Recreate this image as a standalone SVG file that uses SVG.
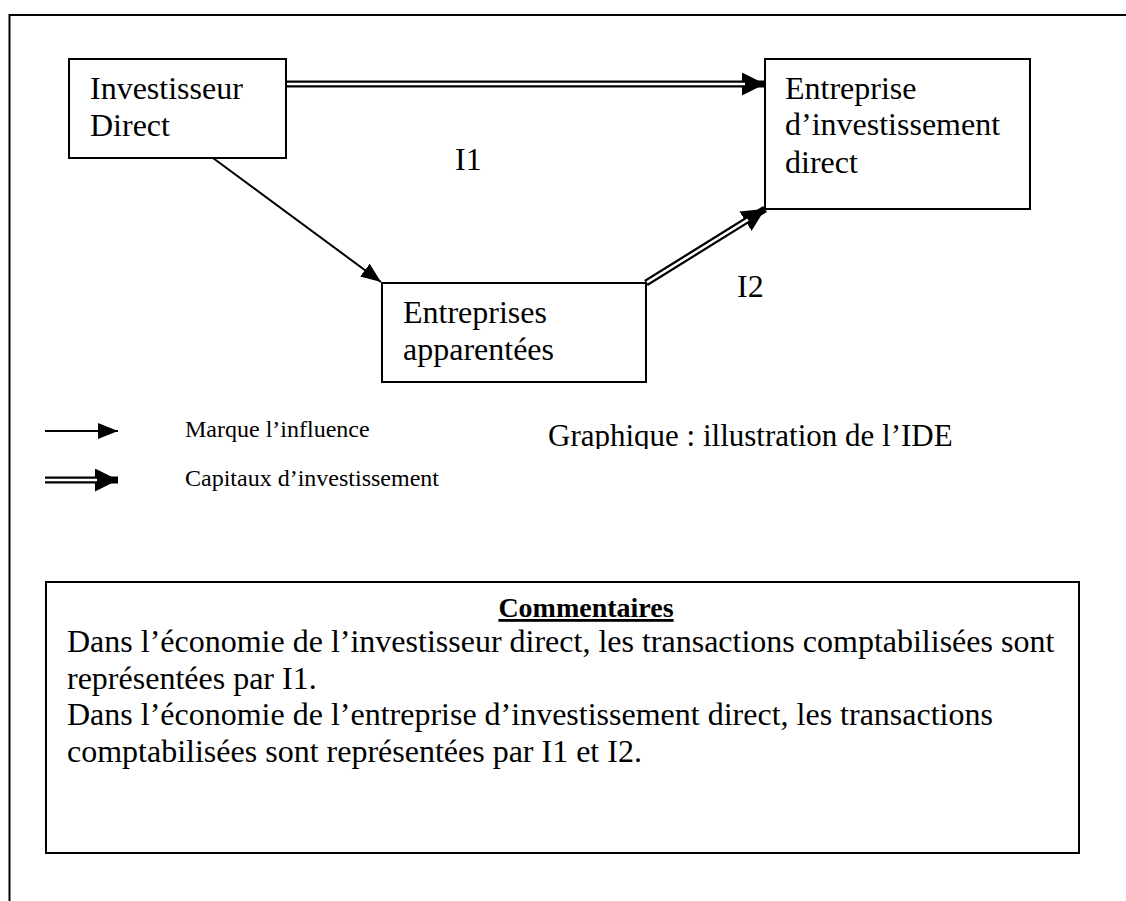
<svg xmlns="http://www.w3.org/2000/svg" width="1126" height="901" viewBox="0 0 1126 901">
<style>
.box{fill:#fff;stroke:#000;stroke-width:2}
.t{font-family:"Liberation Serif","Times New Roman",serif;fill:#000}
.big{font-size:32px}
.leg{font-size:24px}
.com{font-size:32px}
.thin{stroke:#000;stroke-width:2;fill:none}
.dblo{stroke:#000;stroke-width:7;fill:none}
.dbli{stroke:#fff;stroke-width:2.5;fill:none}
</style>
<defs>
<marker id="ah" markerUnits="userSpaceOnUse" markerWidth="20" markerHeight="16" refX="20" refY="8" orient="auto"><path d="M0,0 L20,8 L0,16 z" fill="#000"/></marker>
<marker id="ah2" markerUnits="userSpaceOnUse" markerWidth="23" markerHeight="23" refX="23" refY="11.5" orient="auto"><path d="M0,0 L23,11.5 L0,23 z" fill="#000"/></marker>
<clipPath id="clipG"><rect x="500" y="400" width="500" height="49"/></clipPath>
</defs>
<rect width="1126" height="901" fill="#fff"/>
<path d="M9.5,901 V15 H1126" fill="none" stroke="#000" stroke-width="2"/>

<g id="connectors">
<line class="thin" x1="213" y1="158" x2="381" y2="282" marker-end="url(#ah)"/>
<line class="dblo" x1="286" y1="84" x2="765" y2="84" marker-end="url(#ah2)"/>
<line class="dbli" x1="287" y1="84" x2="745" y2="84"/>
<line class="dblo" x1="646" y1="283" x2="765" y2="209" marker-end="url(#ah2)"/>
<line class="dbli" x1="647" y1="282.4" x2="748" y2="219.6"/>
</g>

<g id="node-investisseur">
<rect class="box" x="69" y="59" width="217" height="99"/>
<text class="t big" x="90" y="99">Investisseur</text>
<text class="t big" x="90" y="136">Direct</text>
</g>

<g id="node-entreprise">
<rect class="box" x="765" y="59" width="265" height="150"/>
<text class="t big" x="785" y="99">Entreprise</text>
<text class="t big" x="785" y="135">d’investissement</text>
<text class="t big" x="785" y="173">direct</text>
</g>

<g id="node-apparentees">
<rect class="box" x="382" y="283" width="264" height="99"/>
<text class="t big" x="403" y="323">Entreprises</text>
<text class="t big" x="403" y="360">apparentées</text>
</g>

<g id="labels">
<text class="t big" x="455" y="170">I1</text>
<text class="t big" x="737" y="297">I2</text>
</g>

<g id="legend">
<line class="thin" x1="45" y1="431" x2="118" y2="431" marker-end="url(#ah)"/>
<line class="dblo" x1="45" y1="480" x2="118" y2="480" marker-end="url(#ah2)"/>
<line class="dbli" x1="45" y1="480" x2="97" y2="480"/>
<text class="t leg" x="185" y="437">Marque l’influence</text>
<text class="t leg" x="185" y="486">Capitaux d’investissement</text>
<text class="t" font-size="31" x="548" y="446" clip-path="url(#clipG)">Graphique : illustration de l’IDE</text>
</g>

<g id="commentaires">
<rect class="box" x="46" y="582" width="1033" height="271"/>
<text class="t" font-size="28" font-weight="bold" x="586" y="617" text-anchor="middle" text-decoration="underline">Commentaires</text>
<text class="t com" x="67" y="652">Dans l’économie de l’investisseur direct, les transactions comptabilisées sont</text>
<text class="t com" x="67" y="689">représentées par I1.</text>
<text class="t com" x="67" y="725">Dans l’économie de l’entreprise d’investissement direct, les transactions</text>
<text class="t com" x="67" y="762">comptabilisées sont représentées par I1 et I2.</text>
</g>
</svg>
